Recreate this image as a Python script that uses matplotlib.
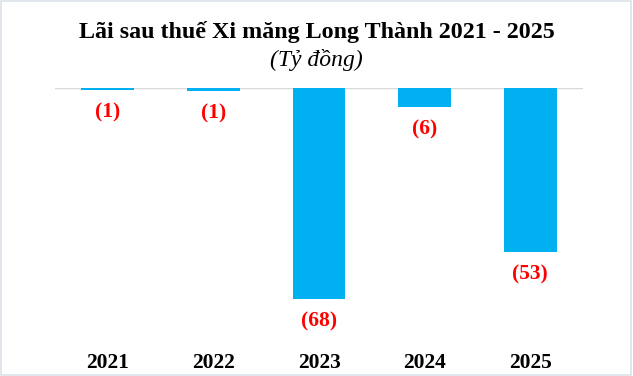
import matplotlib
matplotlib.use("Agg")
import matplotlib.pyplot as plt
from matplotlib.patches import Rectangle

# Data (tỷ đồng)
years = ["2021", "2022", "2023", "2024", "2025"]
profit = [-0.5, -1.1, -68, -6, -53]
labels = ["(1)", "(1)", "(68)", "(6)", "(53)"]

BAR_COLOR = "#00B0F0"
LABEL_COLOR = "#FF0000"
GRID_COLOR = "#D9D9D9"

plt.rcParams["font.family"] = ["Liberation Serif", "DejaVu Serif"]

fig = plt.figure(figsize=(6.33, 3.76), dpi=100)
ax = fig.add_axes([0.087, 0.096, 0.834, 0.67])

x = range(len(years))
ax.bar(x, profit, width=0.5, color=BAR_COLOR, zorder=2)

for xi, v, lab in zip(x, profit, labels):
    ax.annotate(lab, (xi, v), xytext=(0, -9), textcoords="offset points",
                ha="center", va="top", color=LABEL_COLOR,
                fontsize=15.5, fontweight="bold")

ax.set_xlim(-0.5, len(years) - 0.5)
ax.set_ylim(-81.2, 0)
ax.axhline(0, color=GRID_COLOR, lw=1, zorder=1)

ax.set_xticks(list(x))
ax.set_xticklabels(years, fontsize=15.5, fontweight="bold")
ax.tick_params(axis="x", length=0, pad=9.5)
ax.set_yticks([])
for s in ax.spines.values():
    s.set_visible(False)

fig.text(0.5, 0.915, "Lãi sau thuế Xi măng Long Thành 2021 - 2025",
         ha="center", va="center", fontsize=17.3, fontweight="bold")
fig.text(0.5, 0.84, "(Tỷ đồng)", ha="center", va="center",
         fontsize=17, style="italic")

# light border around the whole chart
fig.patches.append(Rectangle((0.002, 0.003), 0.995, 0.994, transform=fig.transFigure,
                             fill=False, edgecolor="#DDE3EA", lw=1.2))

fig.savefig("out.png", dpi=100)
